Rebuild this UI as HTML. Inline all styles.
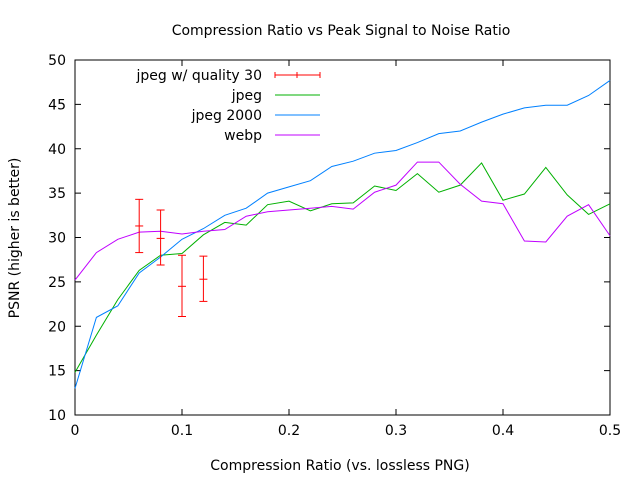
<!DOCTYPE html>
<html><head><meta charset="utf-8"><style>
body{margin:0;background:#fff;font-family:"DejaVu Sans","Liberation Sans",sans-serif;}
svg text{font-family:"DejaVu Sans","Liberation Sans",sans-serif;font-size:14px;fill:#000;}
</style></head><body>
<svg id="chart" width="640" height="480" xmlns="http://www.w3.org/2000/svg">
<rect width="640" height="480" fill="#fff"/>
<text x="341" y="35" text-anchor="middle">Compression Ratio vs Peak Signal to Noise Ratio</text>
<text x="340" y="470" text-anchor="middle">Compression Ratio (vs. lossless PNG)</text>
<text x="19" y="238" text-anchor="middle" transform="rotate(-90 19 238)">PSNR (higher is better)</text>
<g id="axes"></g>
<g id="series"></g>
<g id="legend"></g>
</svg>
<script>
const xs = [0,0.02,0.04,0.06,0.08,0.1,0.12,0.14,0.16,0.18,0.2,0.22,0.24,0.26,0.28,0.3,0.32,0.34,0.36,0.38,0.4,0.42,0.44,0.46,0.48,0.5];
const jpeg2000 = [13,21,22.3,26,27.8,29.8,31,32.5,33.3,35,35.7,36.4,38,38.6,39.5,39.8,40.7,41.7,42,43,43.9,44.6,44.9,44.9,46,47.7];
const jpeg = [14.8,19,23,26.3,28,28.2,30.3,31.7,31.4,33.7,34.1,33,33.8,33.9,35.8,35.3,37.2,35.1,35.9,38.4,34.2,34.9,37.9,34.8,32.6,33.8];
const webp = [25.2,28.3,29.8,30.6,30.7,30.4,30.7,30.9,32.4,32.9,33.1,33.3,33.5,33.2,35.1,35.9,38.5,38.5,36,34.1,33.8,29.6,29.5,32.4,33.7,30.2];
const errX = [0.06,0.08,0.1,0.12];
const errY = [31.3,29.9,24.5,25.3];
const errLo = [28.3,26.9,21.1,22.8];
const errHi = [34.3,33.1,28,27.9];
const xTicks = [0,0.1,0.2,0.3,0.4,0.5];
const xTickLabels = ["0","0.1","0.2","0.3","0.4","0.5"];
const yTicks = [10,15,20,25,30,35,40,45,50];
const yTickLabels = ["10","15","20","25","30","35","40","45","50"];
const L=75,R=610,T=60,B=415;
const sx=v=>L+(v-0)/(0.5)*(R-L);
const sy=v=>B-(v-10)/40*(B-T);
const NS="http://www.w3.org/2000/svg";
function mk(tag,attrs,parent){const e=document.createElementNS(NS,tag);for(const k in attrs)e.setAttribute(k,attrs[k]);parent.appendChild(e);return e;}
const axes=document.getElementById('axes');
const fr=mk('rect',{x:L,y:T,width:R-L,height:B-T,fill:'none',stroke:'#000','stroke-width':1},axes);


xTicks.forEach((v,i)=>{
 const x=sx(v);
 const t1=mk('line',{x1:x,x2:x,y1:B,y2:B-6,stroke:'#000'},axes);
 
 
 mk('line',{x1:x,x2:x,y1:T,y2:T+6,stroke:'#000'},axes);
 const tx=mk('text',{x:x,y:B+20,'text-anchor':'middle'},axes);tx.textContent=xTickLabels[i];
 
 
});
yTicks.forEach((v,i)=>{
 const y=sy(v);
 const t1=mk('line',{x1:L,x2:L+6,y1:y,y2:y,stroke:'#000'},axes);
 
 
 mk('line',{x1:R,x2:R-6,y1:y,y2:y,stroke:'#000'},axes);
 const tx=mk('text',{x:L-9,y:y+5,'text-anchor':'end'},axes);tx.textContent=yTickLabels[i];
 
 
});
const series=document.getElementById('series');
function line(ys,color,name){
 const p=mk('polyline',{points:xs.map((x,i)=>sx(x)+','+sy(ys[i])).join(' '),fill:'none',stroke:color,'stroke-width':1},series);
 
 
}
line(jpeg,'#00b000','jpeg-line');
line(jpeg2000,'#0080ff','jpeg2000-line');
line(webp,'#c000ff','webp-line');
errX.forEach((xv,i)=>{
 const g=mk('g',{stroke:'#ff0000','stroke-width':1},series);
 
 
 const x=sx(xv);
 mk('line',{x1:x,x2:x,y1:sy(errLo[i]),y2:sy(errHi[i])},g);
 mk('line',{x1:x-4,x2:x+4,y1:sy(errLo[i]),y2:sy(errLo[i])},g);
 mk('line',{x1:x-4,x2:x+4,y1:sy(errHi[i]),y2:sy(errHi[i])},g);
 mk('line',{x1:x-4,x2:x+4,y1:sy(errY[i]),y2:sy(errY[i])},g);
});
const legend=document.getElementById('legend');
const items=[["jpeg w/ quality 30","#ff0000"],["jpeg","#00b000"],["jpeg 2000","#0080ff"],["webp","#c000ff"]];
items.forEach((it,i)=>{
 const y=75+i*20;
 const g=mk('g',{},legend);
 
 
 const t=mk('text',{x:262,y:y+5,'text-anchor':'end'},g);t.textContent=it[0];
 mk('line',{x1:275,x2:320,y1:y,y2:y,stroke:it[1]},g);
 if(i===0){
  mk('line',{x1:275,x2:275,y1:y-3,y2:y+3,stroke:it[1]},g);
  mk('line',{x1:320,x2:320,y1:y-3,y2:y+3,stroke:it[1]},g);
  mk('line',{x1:297,x2:297,y1:y-3,y2:y+3,stroke:it[1]},g);
 }
});
</script>
</body></html>
